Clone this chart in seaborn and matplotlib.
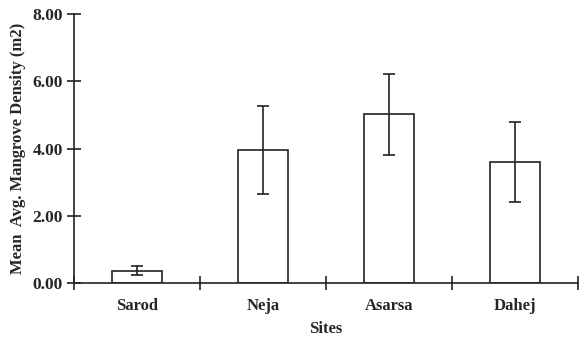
import matplotlib
matplotlib.use("Agg")
import matplotlib.pyplot as plt
import seaborn as sns
import pandas as pd
import numpy as np
from matplotlib.ticker import FixedLocator

sites = ["Sarod", "Neja", "Asarsa", "Dahej"]
means = [0.37, 3.96, 5.02, 3.60]
errors = [0.13, 1.30, 1.21, 1.20]
yticks = [0.0, 2.0, 4.0, 6.0, 8.0]

sns.set_theme(style="white")
plt.rcParams['font.family'] = ['Liberation Serif', 'DejaVu Serif']

df = pd.DataFrame({"Sites": sites, "Mean": means, "Err": errors})

fig = plt.figure(figsize=(5.79, 3.41), dpi=100)
ax = fig.add_axes([0.128, 0.170, 0.870, 0.789])

sns.barplot(data=df, x="Sites", y="Mean", order=sites, color="white",
            edgecolor="#222222", linewidth=1.2, width=0.4, errorbar=None, ax=ax)
ax.errorbar(x=np.arange(len(sites)), y=df["Mean"], yerr=df["Err"], fmt="none",
            ecolor="#222222", elinewidth=1.2, capsize=4, capthick=1.2)

ax.set_xlim(-0.5, len(sites) - 0.5)
ax.set_ylim(0, 8)
ax.set_yticks(yticks)
ax.set_yticklabels([f"{v:.2f}" for v in yticks], fontweight="bold", fontsize=12.5)
ax.set_xticks(range(len(sites)))
ax.set_xticklabels(sites, fontweight="bold", fontsize=12)
ax.xaxis.set_minor_locator(FixedLocator(np.arange(-0.5, len(sites), 1.0)))
ax.tick_params(axis="x", which="major", length=0, pad=11)
ax.tick_params(axis="x", which="minor", length=10, width=1.2, direction="inout", color="#222222", bottom=True)
ax.tick_params(axis="y", which="major", length=10, width=1.2, direction="inout", color="#222222", left=True, pad=3)

for s in ["top", "right"]:
    ax.spines[s].set_visible(False)
for s in ["left", "bottom"]:
    ax.spines[s].set_color("#222222")
    ax.spines[s].set_linewidth(1.2)

ax.set_xlabel("Sites", fontweight="bold", fontsize=12, labelpad=5)
ax.set_ylabel("Mean  Avg. Mangrove Density (m2)", fontweight="bold", fontsize=12, labelpad=5)
ax.set_facecolor("white")
fig.patch.set_facecolor("white")

fig.savefig("out.png", dpi=100)
